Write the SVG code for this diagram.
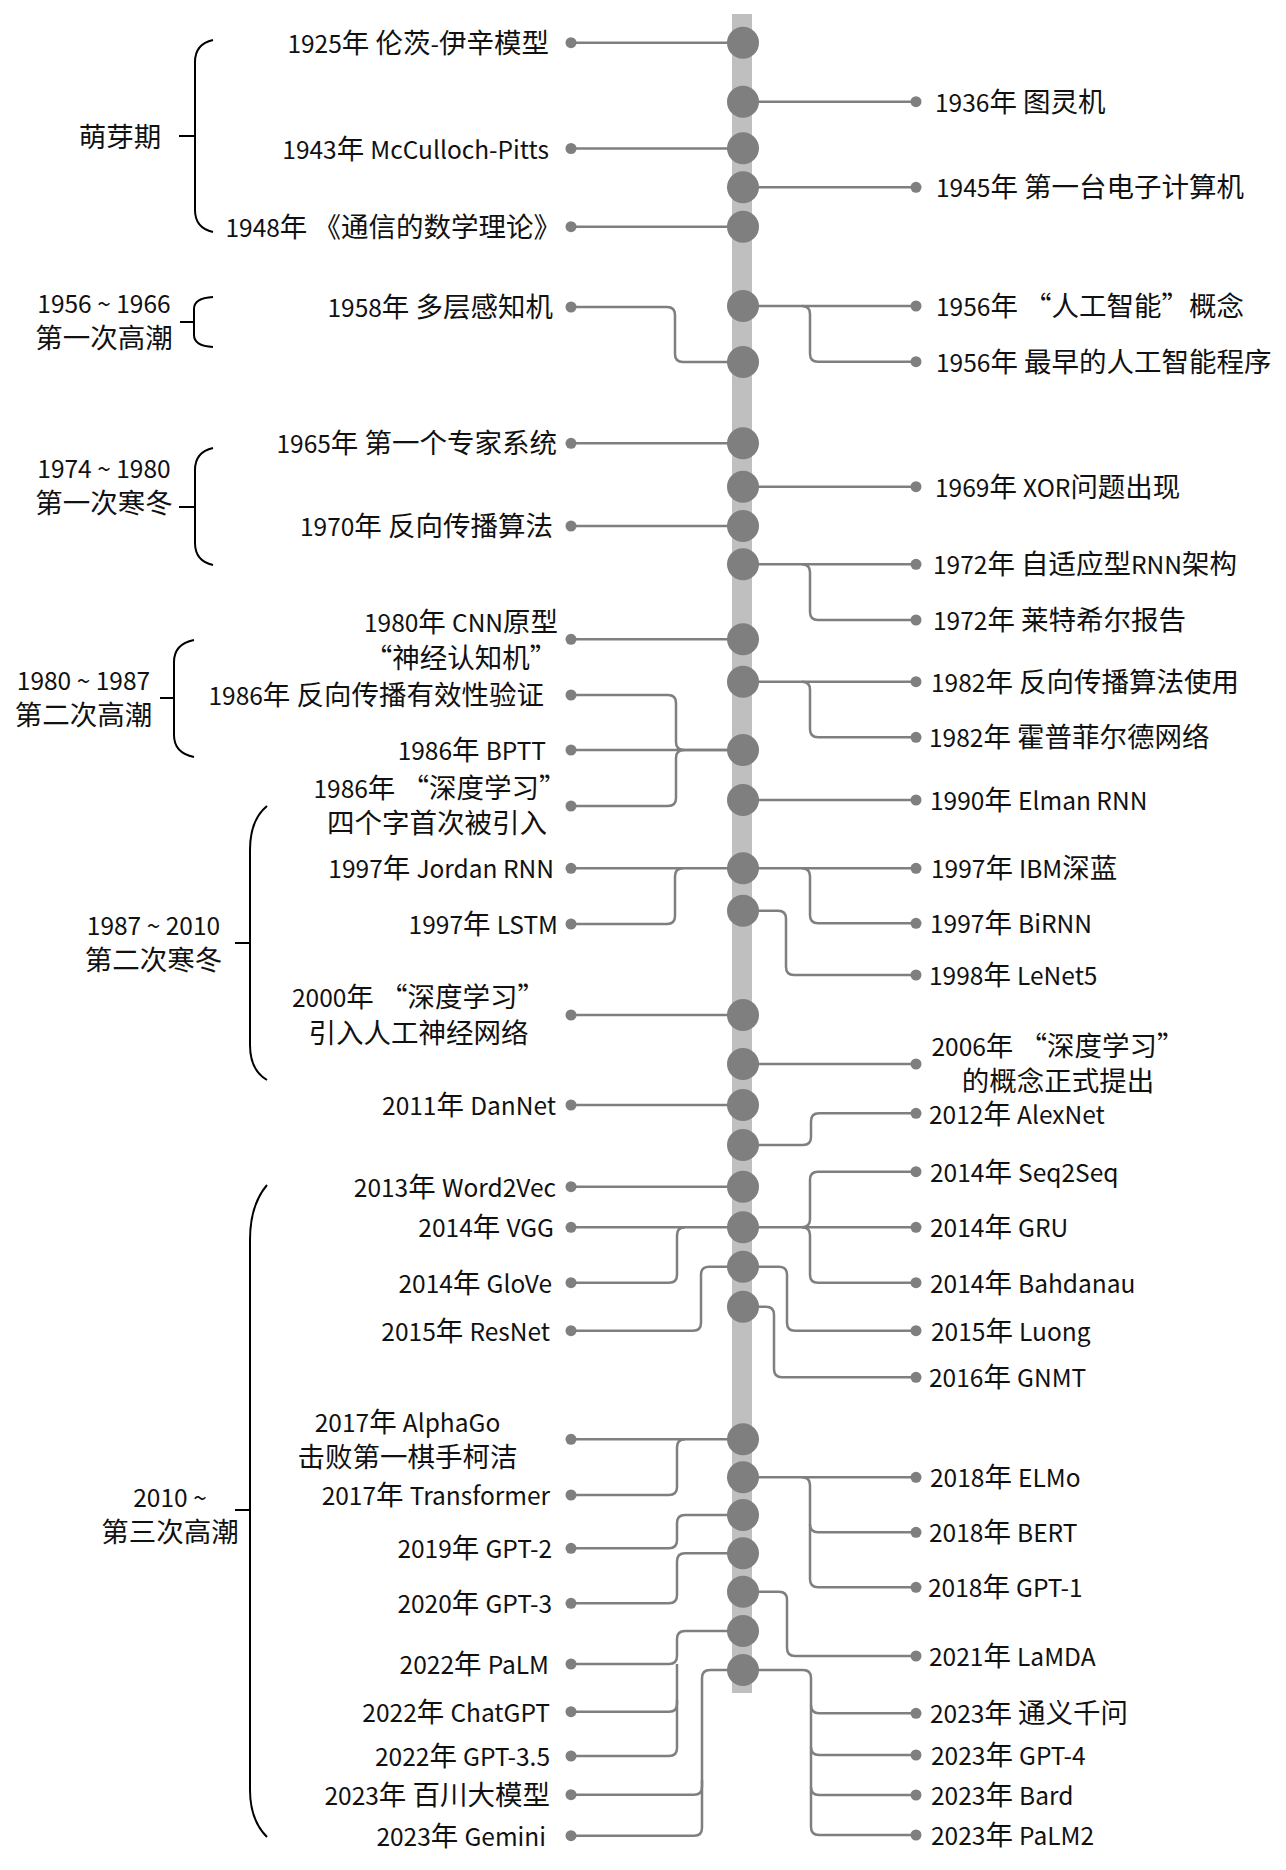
<svg xmlns="http://www.w3.org/2000/svg" width="1286" height="1870" viewBox="0 0 1286 1870">
<style>
text{font-family:"Noto Sans CJK SC","Noto Sans",sans-serif;font-size:27.5px;fill:#111}
.a{font-size:24.5px}
.l{text-anchor:end}.r{text-anchor:start}.c{text-anchor:middle}
.cn{fill:none;stroke:#7f7f7f;stroke-width:2.5}
.br{fill:none;stroke:#000;stroke-width:2}
.hub{fill:#7f7f7f}
.dot{fill:#7f7f7f}
</style>
<rect width="1286" height="1870" fill="#fff"/>
<rect id="spine" x="732" y="14" width="20" height="1679" fill="#bfbfbf"/>
<g id="connectors" class="cn">
<path d="M571,42.7H743"/>
<path d="M571,148.5H743"/>
<path d="M571,226.7H743"/>
<path d="M571,307H667Q675,307 675,315V354Q675,362 683,362H743"/>
<path d="M571,443.3H743"/>
<path d="M571,526H743"/>
<path d="M571,639.3H743"/>
<path d="M571,695H668Q676,695 676,703V742Q676,750 684,750H743"/>
<path d="M571,750H743"/>
<path d="M571,806H668Q676,806 676,798V758Q676,750 684,750"/>
<path d="M571,868.3H743"/>
<path d="M571,924H667Q675,924 675,916V876.3Q675,868.3 683,868.3"/>
<path d="M571,1015H743"/>
<path d="M571,1105H743"/>
<path d="M571,1186.7H743"/>
<path d="M571,1227.3H743"/>
<path d="M571,1282.7H669Q677,1282.7 677,1274.7V1235.3Q677,1227.3 685,1227.3"/>
<path d="M571,1330.7H693Q701,1330.7 701,1322.7V1274.7Q701,1266.7 709,1266.7H743"/>
<path d="M571,1439.3H743"/>
<path d="M571,1495H669Q677,1495 677,1487V1447.3Q677,1439.3 685,1439.3"/>
<path d="M571,1548.3H669Q677,1548.3 677,1540.3V1523Q677,1515 685,1515H743"/>
<path d="M571,1603.3H669Q677,1603.3 677,1595.3V1561.3Q677,1553.3 685,1553.3H743"/>
<path d="M571,1664H669Q677,1664 677,1656V1639Q677,1631 685,1631H743"/>
<path d="M571,1711.7H669Q677,1711.7 677,1703.7V1664"/>
<path d="M571,1756H669Q677,1756 677,1748V1700"/>
<path d="M571,1794.7H694Q702,1794.7 702,1786.7V1678Q702,1670 710,1670H743"/>
<path d="M571,1835.7H694Q702,1835.7 702,1827.7V1780"/>
<path d="M743,101.7H916"/>
<path d="M743,187.3H916"/>
<path d="M743,306H916"/>
<path d="M802,306Q810,306 810,314V353.7Q810,361.7 818,361.7H916"/>
<path d="M743,486.7H916"/>
<path d="M743,564.3H916"/>
<path d="M802,564.3Q810,564.3 810,572.3V612Q810,620 818,620H916"/>
<path d="M743,681.7H916"/>
<path d="M802,681.7Q810,681.7 810,689.7V729.3Q810,737.3 818,737.3H916"/>
<path d="M743,800H916"/>
<path d="M743,868.3H916"/>
<path d="M802,868.3Q810,868.3 810,876.3V915.3Q810,923.3 818,923.3H916"/>
<path d="M743,910.7H778Q786,910.7 786,918.7V967Q786,975 794,975H916"/>
<path d="M743,1064H916"/>
<path d="M743,1145H803Q811,1145 811,1137V1121.3Q811,1113.3 819,1113.3H916"/>
<path d="M743,1227.3H916"/>
<path d="M802,1227.3Q810,1227.3 810,1219.3V1179.7Q810,1171.7 818,1171.7H916"/>
<path d="M802,1227.3Q810,1227.3 810,1235.3V1274.7Q810,1282.7 818,1282.7H916"/>
<path d="M743,1266.7H779Q787,1266.7 787,1274.7V1322.7Q787,1330.7 795,1330.7H916"/>
<path d="M743,1306.7H766Q774,1306.7 774,1314.7V1369.3Q774,1377.3 782,1377.3H916"/>
<path d="M743,1477.3H916"/>
<path d="M802,1477.3Q810,1477.3 810,1485.3V1579.3Q810,1587.3 818,1587.3H916"/>
<path d="M810,1524.3Q810,1532.3 818,1532.3H916"/>
<path d="M743,1591.7H779Q787,1591.7 787,1599.7V1648Q787,1656 795,1656H916"/>
<path d="M743,1670H803Q811,1670 811,1678V1827Q811,1835 819,1835H916"/>
<path d="M811,1705.3Q811,1713.3 819,1713.3H916"/>
<path d="M811,1747Q811,1755 819,1755H916"/>
<path d="M811,1787Q811,1795 819,1795H916"/>
</g>
<g id="hubs" class="hub">
<circle cx="743" cy="42.7" r="16"/>
<circle cx="743" cy="101.7" r="16"/>
<circle cx="743" cy="148.3" r="16"/>
<circle cx="743" cy="187.3" r="16"/>
<circle cx="743" cy="226.7" r="16"/>
<circle cx="743" cy="306" r="16"/>
<circle cx="743" cy="362" r="16"/>
<circle cx="743" cy="443.3" r="16"/>
<circle cx="743" cy="486.7" r="16"/>
<circle cx="743" cy="526" r="16"/>
<circle cx="743" cy="564.3" r="16"/>
<circle cx="743" cy="639.3" r="16"/>
<circle cx="743" cy="681.7" r="16"/>
<circle cx="743" cy="750" r="16"/>
<circle cx="743" cy="800" r="16"/>
<circle cx="743" cy="868.3" r="16"/>
<circle cx="743" cy="910.7" r="16"/>
<circle cx="743" cy="1015" r="16"/>
<circle cx="743" cy="1064" r="16"/>
<circle cx="743" cy="1105" r="16"/>
<circle cx="743" cy="1145" r="16"/>
<circle cx="743" cy="1186.7" r="16"/>
<circle cx="743" cy="1227.3" r="16"/>
<circle cx="743" cy="1266.7" r="16"/>
<circle cx="743" cy="1306.7" r="16"/>
<circle cx="743" cy="1439.3" r="16"/>
<circle cx="743" cy="1477.3" r="16"/>
<circle cx="743" cy="1515" r="16"/>
<circle cx="743" cy="1553.3" r="16"/>
<circle cx="743" cy="1591.7" r="16"/>
<circle cx="743" cy="1631" r="16"/>
<circle cx="743" cy="1670" r="16"/>
</g>
<g id="periods">
<g id="p-mengya"><path class="br" d="M213,40Q195,44 195,62V210Q195,228 213,232M179,136H195"/><text class="c" x="120" y="147">萌芽期</text></g>
<g id="p-1956"><path class="br" d="M213,297Q194,298 194,309V335Q194,346 213,347M180,322H194"/><text class="c a" x="104" y="313">1956 ~ 1966</text><text class="c" x="104" y="348">第一次高潮</text></g>
<g id="p-1974"><path class="br" d="M213,448Q195,452 195,470V543Q195,561 213,565M179,507H195"/><text class="c a" x="104" y="478">1974 ~ 1980</text><text class="c" x="104" y="513">第一次寒冬</text></g>
<g id="p-1980"><path class="br" d="M194,640Q174,644 174,662V735Q174,753 194,757M160,698H174"/><text class="c a" x="83.5" y="690">1980 ~ 1987</text><text class="c" x="83.5" y="725">第二次高潮</text></g>
<g id="p-1987"><path class="br" d="M267,806Q250,820 250,850V1045Q250,1070 267,1080M235,943H250"/><text class="c a" x="153.5" y="935">1987 ~ 2010</text><text class="c" x="153.5" y="970">第二次寒冬</text></g>
<g id="p-2010"><path class="br" d="M267,1185Q250,1205 250,1240V1790Q250,1820 267,1837M235,1510H250"/><text class="c a" x="170" y="1507">2010 ~</text><text class="c" x="170" y="1542">第三次高潮</text></g>
</g>
<g id="left-events">
<g id="e1925"><circle class="dot" cx="571" cy="42.7" r="5.5"/><text class="l" x="549" y="53"><tspan class="a">1925</tspan>年 伦茨<tspan class="a">-</tspan>伊辛模型</text></g>
<g id="e1943"><circle class="dot" cx="571" cy="148.5" r="5.5"/><text class="l" x="549" y="159"><tspan class="a">1943</tspan>年 <tspan class="a">McCulloch-Pitts</tspan></text></g>
<g id="e1948"><circle class="dot" cx="571" cy="226.7" r="5.5"/><text class="l" x="561" y="237"><tspan class="a">1948</tspan>年 《通信的数学理论》</text></g>
<g id="e1958"><circle class="dot" cx="571" cy="307" r="5.5"/><text class="l" x="553" y="317"><tspan class="a">1958</tspan>年 多层感知机</text></g>
<g id="e1965"><circle class="dot" cx="571" cy="443.3" r="5.5"/><text class="l" x="557" y="453"><tspan class="a">1965</tspan>年 第一个专家系统</text></g>
<g id="e1970"><circle class="dot" cx="571" cy="526" r="5.5"/><text class="l" x="553" y="536"><tspan class="a">1970</tspan>年 反向传播算法</text></g>
<g id="e1980"><circle class="dot" cx="571" cy="639.3" r="5.5"/><text class="c" x="461" y="632"><tspan class="a">1980</tspan>年 <tspan class="a">CNN</tspan>原型</text><text class="c" x="461" y="668">“神经认知机”</text></g>
<g id="e1986a"><circle class="dot" cx="571" cy="695" r="5.5"/><text class="l" x="544" y="705"><tspan class="a">1986</tspan>年 反向传播有效性验证</text></g>
<g id="e1986b"><circle class="dot" cx="571" cy="750" r="5.5"/><text class="l" x="546" y="760"><tspan class="a">1986</tspan>年 <tspan class="a">BPTT</tspan></text></g>
<g id="e1986c"><circle class="dot" cx="571" cy="806" r="5.5"/><text class="c" x="440" y="798"><tspan class="a">1986</tspan>年 “深度学习”</text><text class="c" x="437" y="833">四个字首次被引入</text></g>
<g id="e1997a"><circle class="dot" cx="571" cy="868.3" r="5.5"/><text class="l" x="554" y="878"><tspan class="a">1997</tspan>年 <tspan class="a">Jordan RNN</tspan></text></g>
<g id="e1997b"><circle class="dot" cx="571" cy="924" r="5.5"/><text class="l" x="558" y="934"><tspan class="a">1997</tspan>年 <tspan class="a">LSTM</tspan></text></g>
<g id="e2000"><circle class="dot" cx="571" cy="1015" r="5.5"/><text class="c" x="418.5" y="1007"><tspan class="a">2000</tspan>年 “深度学习”</text><text class="c" x="418.5" y="1043">引入人工神经网络</text></g>
<g id="e2011"><circle class="dot" cx="571" cy="1105" r="5.5"/><text class="l" x="556" y="1115"><tspan class="a">2011</tspan>年 <tspan class="a">DanNet</tspan></text></g>
<g id="e2013"><circle class="dot" cx="571" cy="1186.7" r="5.5"/><text class="l" x="556" y="1197"><tspan class="a">2013</tspan>年 <tspan class="a">Word2Vec</tspan></text></g>
<g id="e2014a"><circle class="dot" cx="571" cy="1227.3" r="5.5"/><text class="l" x="554" y="1237"><tspan class="a">2014</tspan>年 <tspan class="a">VGG</tspan></text></g>
<g id="e2014b"><circle class="dot" cx="571" cy="1282.7" r="5.5"/><text class="l" x="552" y="1293"><tspan class="a">2014</tspan>年 <tspan class="a">GloVe</tspan></text></g>
<g id="e2015a"><circle class="dot" cx="571" cy="1330.7" r="5.5"/><text class="l" x="550" y="1341"><tspan class="a">2015</tspan>年 <tspan class="a">ResNet</tspan></text></g>
<g id="e2017a"><circle class="dot" cx="571" cy="1439.3" r="5.5"/><text class="c" x="407.5" y="1432"><tspan class="a">2017</tspan>年 <tspan class="a">AlphaGo</tspan></text><text class="c" x="407.5" y="1467">击败第一棋手柯洁</text></g>
<g id="e2017b"><circle class="dot" cx="571" cy="1495" r="5.5"/><text class="l" x="550" y="1505"><tspan class="a">2017</tspan>年 <tspan class="a">Transformer</tspan></text></g>
<g id="e2019"><circle class="dot" cx="571" cy="1548.3" r="5.5"/><text class="l" x="552" y="1558"><tspan class="a">2019</tspan>年 <tspan class="a">GPT-2</tspan></text></g>
<g id="e2020"><circle class="dot" cx="571" cy="1603.3" r="5.5"/><text class="l" x="552" y="1613"><tspan class="a">2020</tspan>年 <tspan class="a">GPT-3</tspan></text></g>
<g id="e2022a"><circle class="dot" cx="571" cy="1664" r="5.5"/><text class="l" x="549" y="1674"><tspan class="a">2022</tspan>年 <tspan class="a">PaLM</tspan></text></g>
<g id="e2022b"><circle class="dot" cx="571" cy="1711.7" r="5.5"/><text class="l" x="550" y="1722"><tspan class="a">2022</tspan>年 <tspan class="a">ChatGPT</tspan></text></g>
<g id="e2022c"><circle class="dot" cx="571" cy="1756" r="5.5"/><text class="l" x="550" y="1766"><tspan class="a">2022</tspan>年 <tspan class="a">GPT-3.5</tspan></text></g>
<g id="e2023a"><circle class="dot" cx="571" cy="1794.7" r="5.5"/><text class="l" x="550" y="1805"><tspan class="a">2023</tspan>年 百川大模型</text></g>
<g id="e2023b"><circle class="dot" cx="571" cy="1835.7" r="5.5"/><text class="l" x="546" y="1846"><tspan class="a">2023</tspan>年 <tspan class="a">Gemini</tspan></text></g>
</g>
<g id="right-events">
<g id="e1936"><circle class="dot" cx="916" cy="101.7" r="5.5"/><text class="r" x="935" y="112"><tspan class="a">1936</tspan>年 图灵机</text></g>
<g id="e1945"><circle class="dot" cx="916" cy="187.3" r="5.5"/><text class="r" x="936" y="197"><tspan class="a">1945</tspan>年 第一台电子计算机</text></g>
<g id="e1956a"><circle class="dot" cx="916" cy="306" r="5.5"/><text class="r" x="936" y="316"><tspan class="a">1956</tspan>年 “人工智能”概念</text></g>
<g id="e1956b"><circle class="dot" cx="916" cy="361.7" r="5.5"/><text class="r" x="936" y="372"><tspan class="a">1956</tspan>年 最早的人工智能程序</text></g>
<g id="e1969"><circle class="dot" cx="916" cy="486.7" r="5.5"/><text class="r" x="935" y="497"><tspan class="a">1969</tspan>年 <tspan class="a">XOR</tspan>问题出现</text></g>
<g id="e1972a"><circle class="dot" cx="916" cy="564.3" r="5.5"/><text class="r" x="933" y="574"><tspan class="a">1972</tspan>年 自适应型<tspan class="a">RNN</tspan>架构</text></g>
<g id="e1972b"><circle class="dot" cx="916" cy="620" r="5.5"/><text class="r" x="933" y="630"><tspan class="a">1972</tspan>年 莱特希尔报告</text></g>
<g id="e1982a"><circle class="dot" cx="916" cy="681.7" r="5.5"/><text class="r" x="931" y="692"><tspan class="a">1982</tspan>年 反向传播算法使用</text></g>
<g id="e1982b"><circle class="dot" cx="916" cy="737.3" r="5.5"/><text class="r" x="929" y="747"><tspan class="a">1982</tspan>年 霍普菲尔德网络</text></g>
<g id="e1990"><circle class="dot" cx="916" cy="800" r="5.5"/><text class="r" x="930" y="810"><tspan class="a">1990</tspan>年 <tspan class="a">Elman RNN</tspan></text></g>
<g id="e1997c"><circle class="dot" cx="916" cy="868.3" r="5.5"/><text class="r" x="931" y="878"><tspan class="a">1997</tspan>年 <tspan class="a">IBM</tspan>深蓝</text></g>
<g id="e1997d"><circle class="dot" cx="916" cy="923.3" r="5.5"/><text class="r" x="930" y="933"><tspan class="a">1997</tspan>年 <tspan class="a">BiRNN</tspan></text></g>
<g id="e1998"><circle class="dot" cx="916" cy="975" r="5.5"/><text class="r" x="929" y="985"><tspan class="a">1998</tspan>年 <tspan class="a">LeNet5</tspan></text></g>
<g id="e2006"><circle class="dot" cx="916" cy="1064" r="5.5"/><text class="c" x="1058" y="1056"><tspan class="a">2006</tspan>年 “深度学习”</text><text class="c" x="1058" y="1091">的概念正式提出</text></g>
<g id="e2012"><circle class="dot" cx="916" cy="1113.3" r="5.5"/><text class="r" x="929" y="1124"><tspan class="a">2012</tspan>年 <tspan class="a">AlexNet</tspan></text></g>
<g id="e2014c"><circle class="dot" cx="916" cy="1171.7" r="5.5"/><text class="r" x="930" y="1182"><tspan class="a">2014</tspan>年 <tspan class="a">Seq2Seq</tspan></text></g>
<g id="e2014d"><circle class="dot" cx="916" cy="1227.3" r="5.5"/><text class="r" x="930" y="1237"><tspan class="a">2014</tspan>年 <tspan class="a">GRU</tspan></text></g>
<g id="e2014e"><circle class="dot" cx="916" cy="1282.7" r="5.5"/><text class="r" x="930" y="1293"><tspan class="a">2014</tspan>年 <tspan class="a">Bahdanau</tspan></text></g>
<g id="e2015b"><circle class="dot" cx="916" cy="1330.7" r="5.5"/><text class="r" x="931" y="1341"><tspan class="a">2015</tspan>年 <tspan class="a">Luong</tspan></text></g>
<g id="e2016"><circle class="dot" cx="916" cy="1377.3" r="5.5"/><text class="r" x="929" y="1387"><tspan class="a">2016</tspan>年 <tspan class="a">GNMT</tspan></text></g>
<g id="e2018a"><circle class="dot" cx="916" cy="1477.3" r="5.5"/><text class="r" x="930" y="1487"><tspan class="a">2018</tspan>年 <tspan class="a">ELMo</tspan></text></g>
<g id="e2018b"><circle class="dot" cx="916" cy="1532.3" r="5.5"/><text class="r" x="929" y="1542"><tspan class="a">2018</tspan>年 <tspan class="a">BERT</tspan></text></g>
<g id="e2018c"><circle class="dot" cx="916" cy="1587.3" r="5.5"/><text class="r" x="928" y="1597"><tspan class="a">2018</tspan>年 <tspan class="a">GPT-1</tspan></text></g>
<g id="e2021"><circle class="dot" cx="916" cy="1656" r="5.5"/><text class="r" x="929" y="1666"><tspan class="a">2021</tspan>年 <tspan class="a">LaMDA</tspan></text></g>
<g id="e2023c"><circle class="dot" cx="916" cy="1713.3" r="5.5"/><text class="r" x="930" y="1723"><tspan class="a">2023</tspan>年 通义千问</text></g>
<g id="e2023d"><circle class="dot" cx="916" cy="1755" r="5.5"/><text class="r" x="931" y="1765"><tspan class="a">2023</tspan>年 <tspan class="a">GPT-4</tspan></text></g>
<g id="e2023e"><circle class="dot" cx="916" cy="1795" r="5.5"/><text class="r" x="931" y="1805"><tspan class="a">2023</tspan>年 <tspan class="a">Bard</tspan></text></g>
<g id="e2023f"><circle class="dot" cx="916" cy="1835" r="5.5"/><text class="r" x="931" y="1845"><tspan class="a">2023</tspan>年 <tspan class="a">PaLM2</tspan></text></g>
</g>
</svg>
